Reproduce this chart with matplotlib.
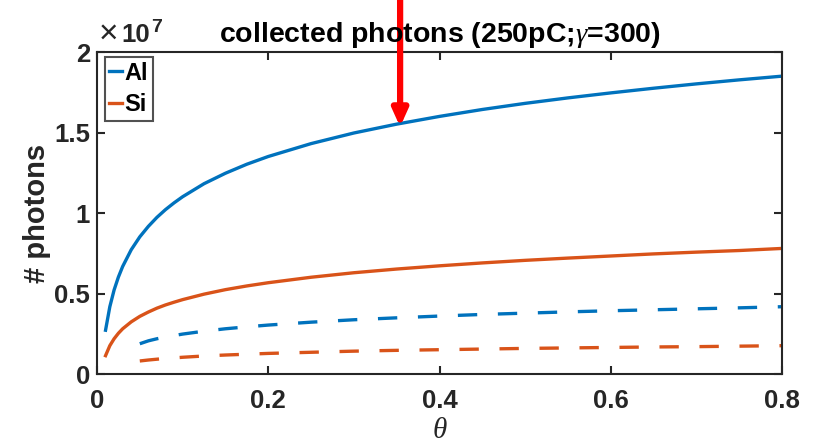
import matplotlib.pyplot as plt
from matplotlib.ticker import FuncFormatter

plt.rcParams['font.family'] = ['Liberation Sans', 'DejaVu Sans']
plt.rcParams['mathtext.fontset'] = 'custom'
plt.rcParams['mathtext.it'] = 'Liberation Serif:italic'
plt.rcParams['mathtext.rm'] = 'Liberation Sans:bold'

# angle theta and collected photon counts (units of 1e7)
theta = [0.01, 0.015, 0.02, 0.025, 0.03, 0.04, 0.05, 0.06, 0.07, 0.08, 0.09,
         0.1, 0.125, 0.15, 0.175, 0.2, 0.25, 0.3, 0.35, 0.4, 0.45, 0.5,
         0.55, 0.6, 0.65, 0.7, 0.75, 0.8]
al = [0.272, 0.418, 0.522, 0.602, 0.668, 0.772, 0.852, 0.917, 0.973, 1.021,
      1.063, 1.101, 1.182, 1.247, 1.303, 1.351, 1.431, 1.497, 1.552, 1.600,
      1.643, 1.681, 1.715, 1.746, 1.775, 1.802, 1.827, 1.850]
si = [0.114, 0.176, 0.219, 0.253, 0.281, 0.324, 0.358, 0.385, 0.409, 0.429,
      0.446, 0.462, 0.496, 0.524, 0.547, 0.567, 0.601, 0.629, 0.652, 0.672,
      0.690, 0.706, 0.720, 0.733, 0.746, 0.757, 0.767, 0.780]

# dashed curves start at theta = 0.05
theta_d = theta[6:]
al_d = [0.188, 0.206, 0.219, 0.230, 0.239, 0.248, 0.266, 0.281, 0.293, 0.304,
        0.322, 0.337, 0.349, 0.360, 0.370, 0.378, 0.386, 0.393, 0.399, 0.405,
        0.411, 0.418]
si_d = [0.081, 0.087, 0.092, 0.097, 0.100, 0.104, 0.112, 0.118, 0.123, 0.128,
        0.135, 0.142, 0.147, 0.151, 0.155, 0.159, 0.162, 0.165, 0.168, 0.170,
        0.173, 0.176]

scale = 1e7
al = [v * scale for v in al]
si = [v * scale for v in si]
al_d = [v * scale for v in al_d]
si_d = [v * scale for v in si_d]

blue = '#0072BD'
orange = '#D95319'
dark = '#262626'

fig = plt.figure(figsize=(8.17, 4.46), dpi=100)
ax = fig.add_axes([0.1187, 0.1614, 0.8385, 0.722])

dash = (0, (5.8, 6.2))
ax.plot(theta, al, color=blue, lw=2.4, label='Al')
ax.plot(theta, si, color=orange, lw=2.4, label='Si')
ax.plot(theta_d, al_d, color=blue, lw=2.4, ls=dash)
ax.plot(theta_d, si_d, color=orange, lw=2.4, ls=dash)

ax.set_xlim(0, 0.8)
ax.set_ylim(0, 2e7)
ax.set_xticks([0, 0.2, 0.4, 0.6, 0.8])
ax.set_yticks([0, 0.5e7, 1e7, 1.5e7, 2e7])
ax.xaxis.set_major_formatter(FuncFormatter(lambda v, p: f'{v:g}'))
ax.yaxis.set_major_formatter(FuncFormatter(lambda v, p: f'{v / scale:g}'))

for s in ax.spines.values():
    s.set_color(dark)
    s.set_linewidth(1.5)
ax.tick_params(direction='in', length=6, width=1.5, color=dark,
               top=True, right=True, labelsize=18.5, labelcolor=dark)
ax.tick_params(axis='x', pad=11)
ax.tick_params(axis='y', pad=5)
for lbl in ax.get_xticklabels() + ax.get_yticklabels():
    lbl.set_fontweight('bold')

# exponent label above the y axis
t_x = ax.text(0.003, 1.008, '\u00d7', transform=ax.transAxes, fontsize=24,
              color=dark, ha='left', va='bottom')
t_10 = ax.annotate('10', xy=(1, 0.08), xycoords=t_x, xytext=(2, 0),
                   textcoords='offset points', fontsize=18.5,
                   fontweight='bold', color=dark, ha='left', va='bottom')
ax.annotate('7', xy=(1, 0.45), xycoords=t_10, xytext=(1, 0),
            textcoords='offset points', fontsize=14, fontweight='bold',
            color=dark, ha='left', va='bottom')

ax.set_title(r'collected photons (250pC;$\gamma$=300)', fontsize=20.5,
             fontweight='bold', pad=7)
ax.set_ylabel('# photons', fontsize=21, fontweight='bold', labelpad=2,
              color=dark)
ax.set_xlabel(r'$\theta$', fontsize=21, labelpad=2, color=dark)

leg = ax.legend(loc='upper left', handlelength=0.55, handletextpad=0.1,
                borderpad=0.2, labelspacing=0.35, fancybox=False,
                prop={'size': 17, 'weight': 'bold'},
                bbox_to_anchor=(0.011, 0.985), borderaxespad=0)
leg.get_frame().set_edgecolor(dark)
leg.get_frame().set_linewidth(1.5)

# red marker arrow pointing to the Al curve
ax.annotate('', xy=(0.354, 1.535e7), xycoords='data',
            xytext=(0.354, 1.0), textcoords=('data', 'figure fraction'),
            arrowprops=dict(arrowstyle='-|>,head_width=0.45,head_length=1.0',
                            color='#FF0000', lw=4.5, shrinkA=0, shrinkB=0),
            annotation_clip=False)

fig.savefig('out.png', dpi=100)
